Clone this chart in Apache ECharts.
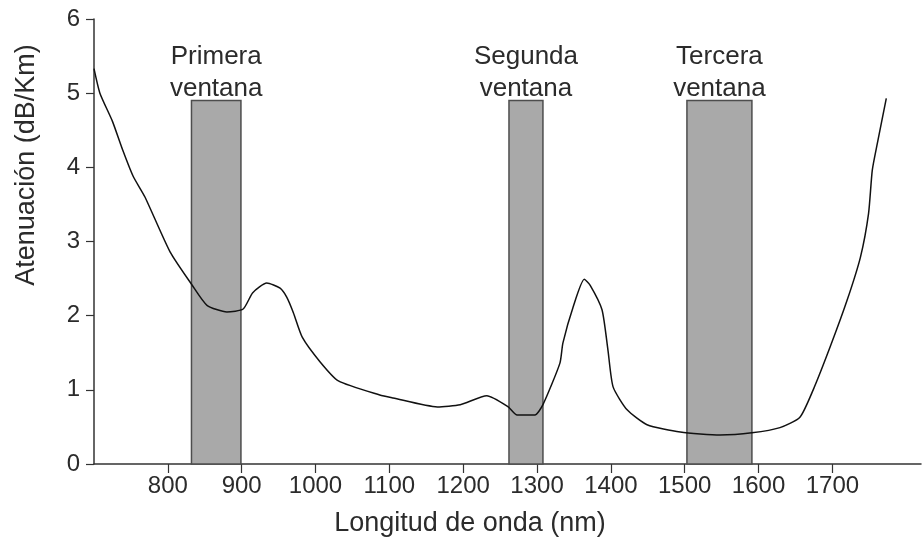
<!DOCTYPE html>
<html>
<head>
<meta charset="utf-8">
<script src="https://cdn.jsdelivr.net/npm/echarts@6/dist/echarts.min.js"></script>
<style>
html,body{margin:0;padding:0;background:#fff;}
#chart{width:922px;height:541px;}
</style>
</head>
<body>
<div id="chart"></div>
<script>
// Curve: wavelength (nm) and attenuation (dB/Km)
var wavelength = [700, 708, 725, 739, 753, 769, 803, 833, 853, 880, 902, 915, 934, 952, 961, 970, 982, 1006, 1031, 1087, 1105, 1165, 1196, 1232, 1261, 1273, 1297, 1308, 1331, 1335, 1349, 1364, 1372, 1388, 1396, 1403, 1422, 1449, 1494, 1548, 1591, 1629, 1656, 1674, 1697, 1720, 1738, 1749, 1754, 1761, 1773];
var attenuation = [5.33, 5.0, 4.62, 4.23, 3.88, 3.6, 2.86, 2.41, 2.14, 2.05, 2.09, 2.31, 2.44, 2.37, 2.25, 2.04, 1.71, 1.38, 1.12, 0.93, 0.89, 0.77, 0.80, 0.92, 0.77, 0.66, 0.66, 0.80, 1.36, 1.63, 2.12, 2.49, 2.41, 2.08, 1.54, 1.04, 0.73, 0.53, 0.43, 0.39, 0.42, 0.49, 0.63, 1.0, 1.58, 2.21, 2.79, 3.38, 3.96, 4.33, 4.93];

// Transmission windows
var windowNames = ['Primera\nventana', 'Segunda\nventana', 'Tercera\nventana'];
var windowStart = [832, 1262, 1503];
var windowEnd = [899, 1308, 1591];
var windowTop = [4.9, 4.9, 4.9];

// Axis ticks
var xTickValues = [800, 900, 1000, 1100, 1200, 1300, 1400, 1500, 1600, 1700];
var xAxisTitle = 'Longitud de onda (nm)';
var yAxisTitle = 'Atenuación (dB/Km)';

var curve = wavelength.map(function (w, i) { return [w, attenuation[i]]; });
var areas = windowNames.map(function (n, i) {
  return [{ name: n, xAxis: windowStart[i], yAxis: 0 }, { xAxis: windowEnd[i], yAxis: windowTop[i] }];
});

var FONT = '"Liberation Sans", Arial, sans-serif';
var TXT = '#2b2b2b';
var AX = '#333333';

var chart = echarts.init(document.getElementById('chart'), null, { renderer: 'canvas' });
chart.setOption({
  animation: false,
  backgroundColor: '#ffffff',
  grid: { left: 94, right: 1, top: 19, bottom: 77, containLabel: false },
  xAxis: {
    type: 'value', min: 700, max: 1820, interval: 100,
    axisLine: { show: true, lineStyle: { color: AX, width: 1.5 } },
    axisTick: { show: true, length: 9, customValues: xTickValues, lineStyle: { color: AX, width: 1.2 } },
    axisLabel: { customValues: xTickValues, margin: 10, fontSize: 24, color: TXT, fontFamily: FONT,
      formatter: function (v) { return String(v); } },
    splitLine: { show: false }
  },
  yAxis: {
    type: 'value', min: 0, max: 6, interval: 1,
    axisLine: { show: true, lineStyle: { color: AX, width: 1.5 } },
    axisTick: { show: true, length: 8, lineStyle: { color: AX, width: 1.2 } },
    axisLabel: { margin: 14, fontSize: 24, color: TXT, fontFamily: FONT },
    splitLine: { show: false }
  },
  graphic: [
    { type: 'text', x: 470, y: 524, style: { text: xAxisTitle, fontSize: 27, fontFamily: FONT, fill: TXT, align: 'center', verticalAlign: 'middle' } },
    { type: 'text', x: 27, y: 165, rotation: Math.PI / 2, style: { text: yAxisTitle, fontSize: 27, fontFamily: FONT, fill: TXT, align: 'center', verticalAlign: 'middle' } }
  ],
  series: [
    {
      type: 'line', data: [], z: 1, silent: true,
      markArea: {
        silent: true,
        itemStyle: { color: '#a9a9a9', borderColor: '#4d4d4d', borderWidth: 1.5, opacity: 1 },
        label: { show: true, position: 'top', distance: -5, fontSize: 26, lineHeight: 32, color: TXT, fontFamily: FONT, formatter: '{b}' },
        data: areas
      }
    },
    {
      type: 'line', data: curve, z: 5, smooth: 0.2, showSymbol: false, symbol: 'none',
      lineStyle: { color: '#111111', width: 1.5 }
    }
  ]
});
</script>
</body>
</html>
